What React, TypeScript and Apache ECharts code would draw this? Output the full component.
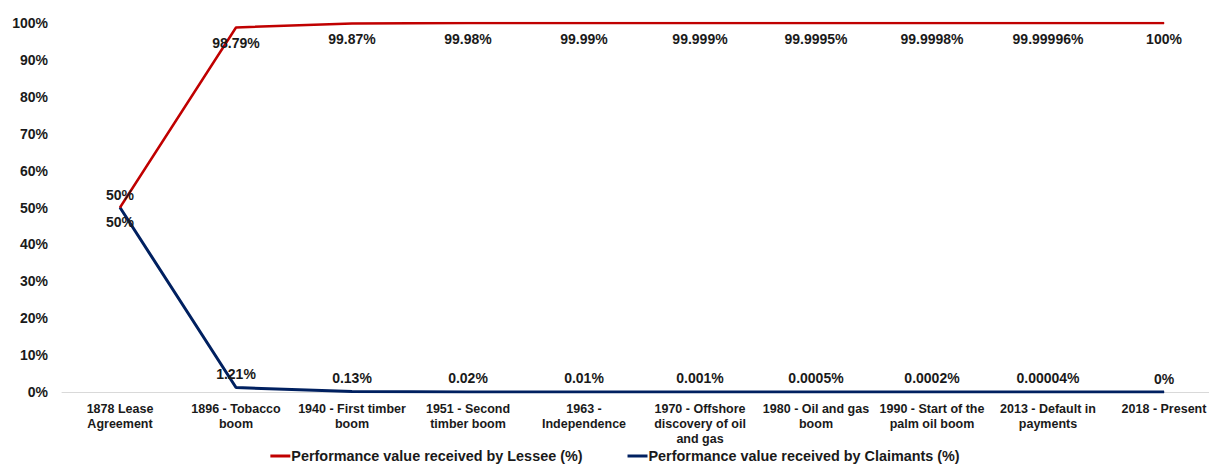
import React, { useEffect, useRef } from "react";
import * as echarts from "echarts";

// Milestones along the x-axis (line breaks as printed under the axis)
const milestones = [
  "1878 Lease\nAgreement",
  "1896 - Tobacco\nboom",
  "1940 - First timber\nboom",
  "1951 - Second\ntimber boom",
  "1963 -\nIndependence",
  "1970 - Offshore\ndiscovery of oil\nand gas",
  "1980 - Oil and gas\nboom",
  "1990 - Start of the\npalm oil boom",
  "2013 - Default in\npayments",
  "2018 - Present",
];

// Share of performance value, in percent
const lesseeShare = [50, 98.79, 99.87, 99.98, 99.99, 99.999, 99.9995, 99.9998, 99.99996, 100];
const claimantsShare = [50, 1.21, 0.13, 0.02, 0.01, 0.001, 0.0005, 0.0002, 0.00004, 0];

const yTicks = [0, 10, 20, 30, 40, 50, 60, 70, 80, 90, 100];

const LESSEE = "Performance value received by Lessee (%)";
const CLAIMANTS = "Performance value received by Claimants (%)";

const FONT = "'Liberation Sans', Arial, sans-serif";
const RED = "#C00000";
const NAVY = "#002060";

export default function App() {
  const ref = useRef<HTMLDivElement>(null);

  useEffect(() => {
    if (!ref.current) return;
    const chart = echarts.init(ref.current, undefined, { renderer: "svg" });

    const labelStyle = {
      show: true,
      fontFamily: FONT,
      fontWeight: "bold" as const,
      fontSize: 14,
      color: "#1a1a1a",
      formatter: (p: any) => `${p.value}%`,
    };

    chart.setOption({
      animation: false,
      backgroundColor: "#ffffff",
      grid: { left: 62, right: 8, top: 23, bottom: 76, containLabel: false },
      xAxis: {
        type: "category",
        data: milestones,
        boundaryGap: true,
        axisLine: { show: true, lineStyle: { color: "#d9d9d9", width: 1 } },
        axisTick: { show: false },
        splitLine: { show: false },
        axisLabel: {
          interval: 0,
          margin: 9,
          fontFamily: FONT,
          fontWeight: "bold",
          fontSize: 12.5,
          lineHeight: 15,
          color: "#1a1a1a",
          align: "center",
        },
      },
      yAxis: {
        type: "value",
        min: yTicks[0],
        max: yTicks[yTicks.length - 1],
        interval: yTicks[1] - yTicks[0],
        axisLine: { show: false },
        axisTick: { show: false },
        splitLine: { show: false },
        axisLabel: {
          margin: 14,
          fontFamily: FONT,
          fontWeight: "bold",
          fontSize: 14,
          color: "#1a1a1a",
          formatter: (v: number) => `${v}%`,
        },
      },
      legend: {
        bottom: 0,
        left: "center",
        itemWidth: 20,
        itemHeight: 3,
        itemGap: 45,
        textStyle: {
          fontFamily: FONT,
          fontWeight: "bold",
          fontSize: 14.4,
          color: "#1a1a1a",
          padding: [0, 0, 0, -4],
        },
        data: [
          { name: LESSEE, icon: "rect", itemStyle: { color: RED, opacity: 1 } },
          { name: CLAIMANTS, icon: "rect", itemStyle: { color: NAVY, opacity: 1 } },
        ],
      },
      series: [
        {
          name: LESSEE,
          type: "line",
          symbol: "circle",
          symbolSize: 1,
          showSymbol: true,
          z: 3,
          lineStyle: { color: RED, width: 2.5 },
          itemStyle: { color: RED },
          label: { ...labelStyle, position: "bottom", distance: 8 },
          data: lesseeShare.map((v, i) =>
            i === 0 ? { value: v, label: { position: "top", distance: 5 } } : v
          ),
        },
        {
          name: CLAIMANTS,
          type: "line",
          symbol: "circle",
          symbolSize: 1,
          showSymbol: true,
          z: 2,
          lineStyle: { color: NAVY, width: 3 },
          itemStyle: { color: NAVY },
          label: { ...labelStyle, position: "top", distance: 6 },
          data: claimantsShare.map((v, i) =>
            i === 0 ? { value: v, label: { position: "bottom", distance: 7 } } : v
          ),
        },
      ],
    });

    return () => chart.dispose();
  }, []);

  return (
    <div style={{ position: "absolute", left: 0, top: 0, width: 1209, height: 468, overflow: "hidden" }}>
      <div ref={ref} style={{ width: 1230, height: 468 }} />
    </div>
  );
}
